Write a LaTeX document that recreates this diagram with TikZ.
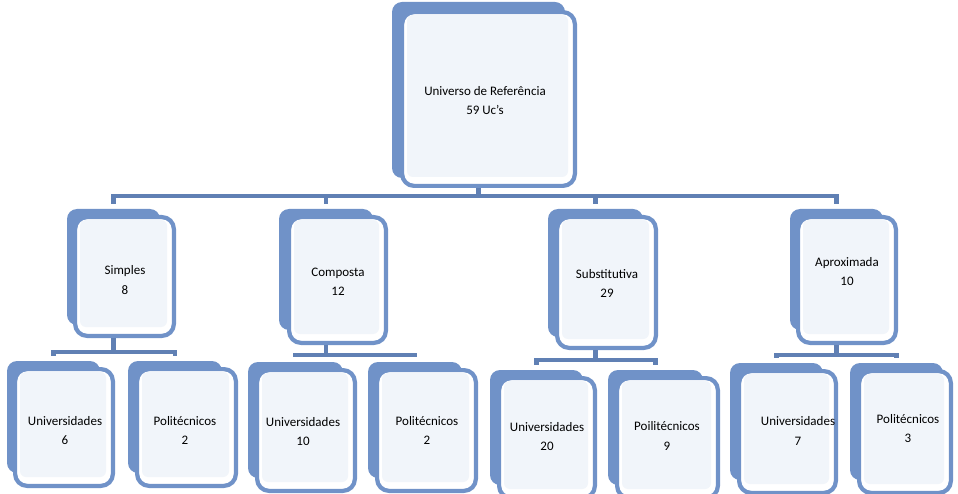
\documentclass[tikz,border=0pt]{standalone}
\usepackage{fontspec}
\setmainfont{Carlito}
\usetikzlibrary{fit,calc}
\definecolor{boxblue}{RGB}{112,146,200}
\definecolor{linkblue}{RGB}{96,128,180}
\definecolor{paleblue}{RGB}{241,245,250}
\tikzset{
  backbox/.style={fill=boxblue, draw=none, rounded corners=10pt, inner sep=0pt},
  frontbox/.style={draw=boxblue, line width=4.2pt, fill=white, rounded corners=12pt, inner sep=0pt},
  lbl/.style={font=\fontsize{13}{19.5}\selectfont, align=center, text=black, inner sep=0pt},
  conn/.style={draw=linkblue, line width=4.2pt}
}
\newcommand\orgbox[9]{%
  \node[backbox, fit={(#2,#3)(#4,#5)}] (#1b) {};
  \node[frontbox, fit={($(#6,#7)+(2.1,2.1)$)($(#8,#9)+(-2.1,-2.1)$)}] (#1) {};
  \fill[paleblue, rounded corners=6pt] ($(#6,#7)+(7,5)$) rectangle ($(#8,#9)+(-9,-11)$);
}
\newcommand\orgfamily[4]{%
  \coordinate (#1bus) at (0,#4);
  \draw[conn] (#1b |- #1.south) -- (#1b |- #1bus);
  \draw[conn] ([yshift=5pt]#2b.north) -- (#2b |- #1bus) -- (#3b |- #1bus) -- ([yshift=5pt]#3b.north);
}
\begin{document}
\begin{tikzpicture}[x=1pt, y=-1pt]
\useasboundingbox (0,0) rectangle (958,494);
% level 1
\orgbox{top}{392}{2}{565}{178}{400}{10}{577}{188}
\node[lbl] (topt) at (485,100.5) {Universo de Referência\\59 Uc's};
% level 2
\orgbox{simp}{67}{209}{160}{325}{73}{215}{176}{338}
\node[lbl] (simpt) at (125,280) {Simples\\8};
\orgbox{comp}{279}{209}{373}{330}{287}{215}{388}{345}
\node[lbl] (compt) at (338,282) {Composta\\12};
\orgbox{subs}{548}{209}{643}{337}{555}{215}{658}{350}
\node[lbl] (subst) at (607,283.5) {Substitutiva\\29};
\orgbox{aprx}{790}{209}{883}{330}{796}{215}{898}{345}
\node[lbl] (aprxt) at (847,271.5) {Aproximada\\10};
% level 3
\orgbox{su}{7}{361}{100}{473}{13}{367}{115}{488}
\node[lbl] (sut) at (65,430.5) {Universidades\\6};
\orgbox{sp}{128}{361}{222}{473}{135}{367}{238}{488}
\node[lbl] (spt) at (185,430.5) {Politécnicos\\2};
\orgbox{cu}{248}{362}{343}{478}{255}{368}{357}{493}
\node[lbl] (cut) at (303,431.5) {Universidades\\10};
\orgbox{cp}{368}{362}{462}{478}{375}{368}{478}{493}
\node[lbl] (cpt) at (427,430.5) {Politécnicos\\2};
\orgbox{bu}{490}{370}{583}{485}{497}{376}{597}{500}
\node[lbl] (but) at (547,436.5) {Universidades\\20};
\orgbox{bp}{608}{370}{703}{485}{615}{376}{720}{500}
\node[lbl] (bpt) at (667,436) {Poilitécnicos\\9};
\orgbox{au}{730}{363}{823}{480}{737}{369}{838}{495}
\node[lbl] (aut) at (798,431) {Universidades\\7};
\orgbox{ap}{850}{363}{943}{480}{857}{369}{953}{495}
\node[lbl] (apt) at (908,428.5) {Politécnicos\\3};
% connectors
\coordinate (topbus) at (0,196);
\draw[conn] (topb |- top.south) -- (topb |- topbus);
\draw[conn] ([yshift=5pt]simpb.north) -- (simpb |- topbus) -- (aprxb |- topbus) -- ([yshift=5pt]aprxb.north);
\draw[conn] (compb |- topbus) -- ([yshift=5pt]compb.north);
\draw[conn] (subsb |- topbus) -- ([yshift=5pt]subsb.north);
\orgfamily{simp}{su}{sp}{352}
\orgfamily{comp}{cu}{cp}{355}
\orgfamily{subs}{bu}{bp}{360}
\orgfamily{aprx}{au}{ap}{355}
\end{tikzpicture}
\end{document}
